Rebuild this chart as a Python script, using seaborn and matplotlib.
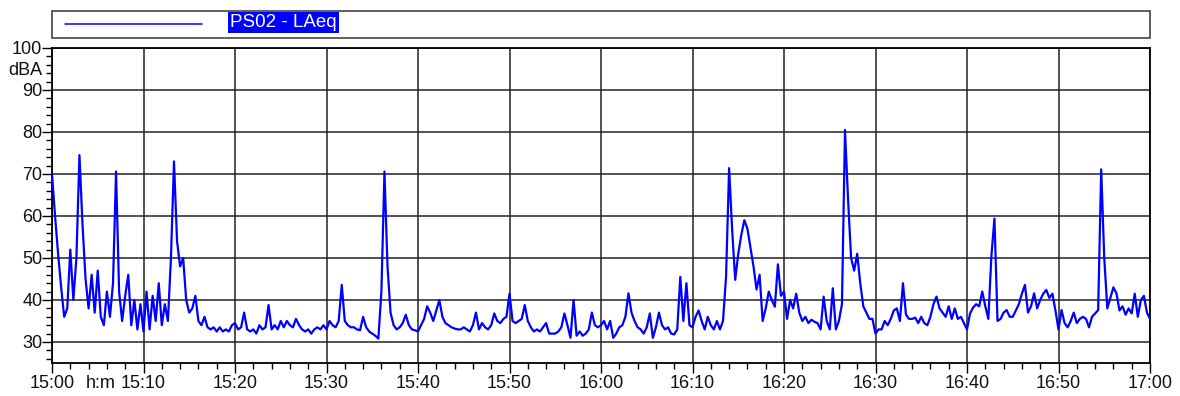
import numpy as np
import pandas as pd
import matplotlib
matplotlib.use("Agg")
import matplotlib.pyplot as plt
import seaborn as sns
from matplotlib.lines import Line2D
from matplotlib.patches import Rectangle
from matplotlib.ticker import MultipleLocator

# ---------------- data ----------------
series_name = "PS02 - LAeq"
y_unit = "dBA"
x_unit = "h:m"
sample_interval_s = 20  # one LAeq value every 20 s, starting 15:00

laeq_1500 = [70, 60, 51, 43, 36, 38, 52, 40, 50, 74.5, 58, 45, 38, 46, 37, 47, 36, 34, 42, 36,
             44, 70.6, 42, 35, 41, 46, 34, 40, 33, 39]
laeq_1510 = [32.5, 42, 33, 41, 35, 44, 34, 39, 35, 50, 73, 54, 48, 50, 40, 37, 38, 41, 35, 34,
             36, 33.5, 33, 33.5, 32.5, 33.5, 32.5, 33, 32.5, 34]
laeq_1520 = [34.5, 33, 33.5, 37, 33, 32.5, 33, 32, 34, 33, 33.5, 38.8, 33, 34, 33, 35, 33.5, 35, 34, 33.5,
             35.5, 34, 33, 32.5, 33, 32, 33, 33.5, 33, 34]
laeq_1530 = [33, 35, 34, 33.5, 35, 43.6, 35, 34, 33.5, 33.5, 33, 32.8, 36, 33.5, 32.5, 32, 31.5, 30.8, 42, 70.6,
             48, 37, 34, 33, 33.5, 34.5, 36.5, 34, 33, 32.8]
laeq_1540 = [32.5, 34, 35.5, 38.5, 37, 35, 37.5, 40, 36, 34.5, 34, 33.5, 33.2, 33, 33, 33.5, 33, 32.5, 34, 37,
             33, 34.5, 33.5, 33, 34, 36.8, 35, 34.5, 35.5, 36]
laeq_1550 = [41.5, 35, 34.5, 35, 35.5, 38.8, 35, 33.5, 32.5, 33, 32.5, 33.5, 34.5, 32, 32, 32, 32.5, 33.5, 36.8, 34,
             31, 40, 31.5, 32.5, 31.5, 32, 33, 37, 34, 33.5]
laeq_1600 = [34, 35, 33, 35, 31, 32, 33.5, 34, 36, 41.6, 37, 35, 33.5, 33, 32, 33.5, 36.8, 31, 33.5, 37,
             34, 33, 33.5, 32, 31.8, 33, 45.5, 35, 44, 34]
laeq_1610 = [33.5, 36, 37.5, 35, 33, 36, 34, 33, 35, 33, 35, 45.5, 71.4, 56.7, 44.8, 51, 55.5, 59, 57, 52.5,
             48, 42.5, 46, 35, 38, 42, 40, 38.4, 48.5, 41]
laeq_1620 = [42, 35.5, 40, 38, 41.5, 37, 35, 36, 34.5, 35.3, 34.8, 34.5, 33, 40.8, 35, 33, 42.8, 33, 35, 39,
             80.5, 64, 50, 47, 51, 44, 38.5, 37, 35.5, 35.5]
laeq_1630 = [32, 33, 33, 35, 34, 35.5, 37.5, 38, 35, 44, 36.5, 35.5, 35.5, 35.8, 34.5, 36, 34.5, 34, 36, 39,
             40.8, 38, 37, 36, 38.5, 35.5, 38, 35.5, 36, 34.5]
laeq_1640 = [33, 36.8, 38.2, 39, 38.5, 42, 38.5, 35.5, 50.5, 59.4, 35, 35.5, 37, 37.6, 36, 36, 37.5, 39, 41.5, 43.6,
             37, 38.5, 41.6, 38, 40, 41.5, 42.4, 40.5, 41.5, 37.5]
laeq_1650 = [33, 37.6, 34.5, 33.5, 35, 37, 34.5, 35.5, 36, 35.5, 33.5, 36, 36.8, 37.6, 71.1, 50, 38, 40.5, 43, 41.6,
             37.5, 38.5, 36.5, 38, 36.8, 41.5, 36, 40, 41, 37, 35.5]

x_tick_minutes = [0, 10, 20, 30, 40, 50, 60, 70, 80, 90, 100, 110, 120]
x_tick_labels = ["15:00", "15:10", "15:20", "15:30", "15:40", "15:50", "16:00",
                 "16:10", "16:20", "16:30", "16:40", "16:50", "17:00"]
y_ticks = [30, 40, 50, 60, 70, 80, 90, 100]

# ---------------- style ----------------
sns.set_style("white")
plt.rcParams['font.family'] = ['Liberation Sans', 'DejaVu Sans']

values = np.concatenate([laeq_1500, laeq_1510, laeq_1520, laeq_1530, laeq_1540, laeq_1550,
                         laeq_1600, laeq_1610, laeq_1620, laeq_1630, laeq_1640, laeq_1650])
minutes = np.arange(len(values)) * sample_interval_s / 60.0
df = pd.DataFrame({"minute": minutes, "LAeq": values})

W, H = 1180, 396
fig = plt.figure(figsize=(W / 100, H / 100), dpi=100)
ax = fig.add_axes([52 / W, 1 - 363 / H, 1098 / W, 315 / H])

sns.lineplot(data=df, x="minute", y="LAeq", color="#0000ff", linewidth=1.6, ax=ax, zorder=3)

ax.set_xlim(0, 120)
ax.set_ylim(25, 100)
ax.set_xticks(x_tick_minutes)
ax.set_xticklabels(x_tick_labels)
ax.set_yticks(y_ticks)
ax.xaxis.set_minor_locator(MultipleLocator(2))
ax.yaxis.set_minor_locator(MultipleLocator(2))
ax.grid(True, which='major', color='#222222', linewidth=1.1, zorder=1)
ax.grid(False, which='minor')
ax.set_xlabel("")
ax.set_ylabel("")
ax.tick_params(axis='both', which='major', direction='out', length=7, width=1.0, color='black',
               labelsize=13, labelcolor='#111111', bottom=True, left=True)
ax.tick_params(axis='both', which='minor', direction='out', length=4, width=1.0, color='black',
               bottom=True, left=True)
ax.tick_params(axis='y', which='major', pad=0)
ax.tick_params(axis='x', which='major', pad=2)
for s in ax.spines.values():
    s.set_color('black')
    s.set_linewidth(1.3)

# unit labels
ax.annotate(y_unit, xy=(0, 94.6), xycoords=ax.get_yaxis_transform(), xytext=(-7, 0),
            textcoords='offset points', ha='right', va='center', fontsize=13, color='#111111')
ax.annotate(x_unit, xy=(5.3, 0), xycoords=ax.get_xaxis_transform(), xytext=(0, -9),
            textcoords='offset points', ha='center', va='top', fontsize=13, color='#111111')

# legend box
fig.patches.append(Rectangle((52 / W, 1 - 38 / H), 1098 / W, 27 / H, transform=fig.transFigure,
                             fill=False, edgecolor='#444444', linewidth=1.2))
fig.lines.append(Line2D([65 / W, 202 / W], [1 - 23.5 / H, 1 - 23.5 / H], transform=fig.transFigure,
                        color='#0000ff', linewidth=1.1))
fig.text(230 / W, 1 - 22.5 / H, series_name, color='white', fontsize=13.5, ha='left', va='center',
         bbox=dict(boxstyle='square,pad=0.1', facecolor='#0000ff', edgecolor='none'))

fig.savefig("out.png", dpi=100, facecolor='white')
